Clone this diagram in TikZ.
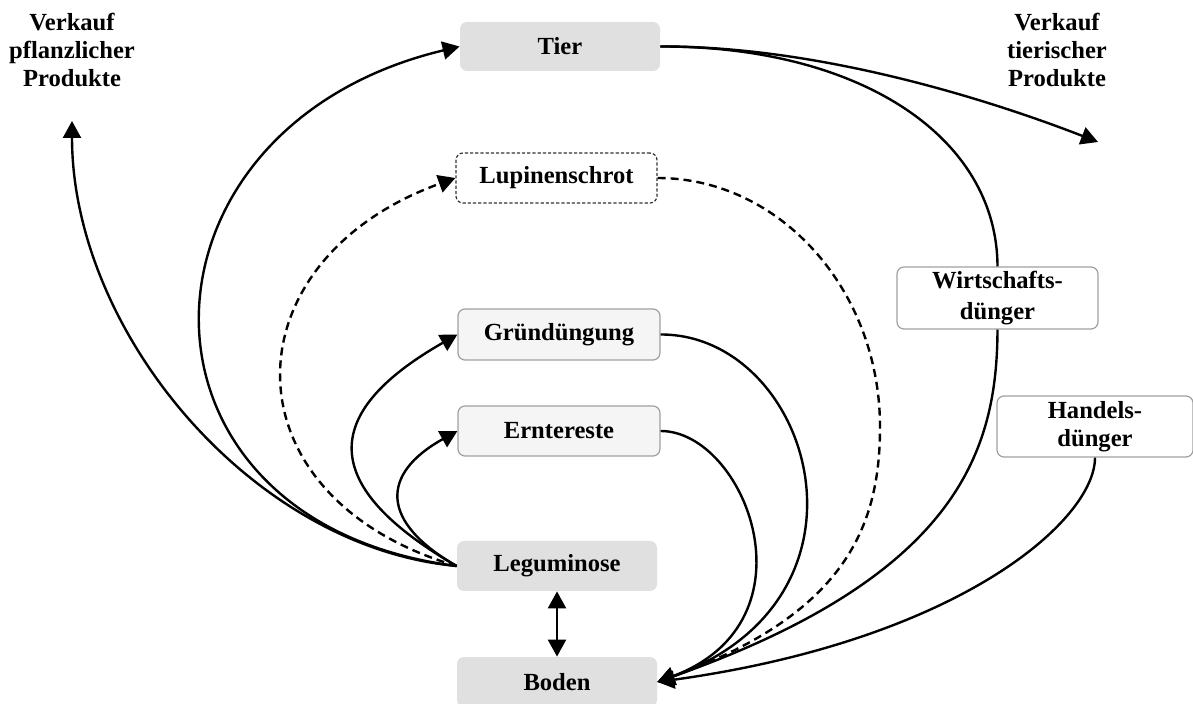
\documentclass[tikz,border=0pt]{standalone}
\usepackage{fontspec}
\setmainfont{Liberation Serif}
\usetikzlibrary{arrows.meta}
\definecolor{boxgray}{HTML}{E0E0E0}
\definecolor{paleboxfill}{HTML}{F5F5F5}
\definecolor{edgegray}{HTML}{A0A0A0}
\definecolor{dashedge}{HTML}{333333}
\begin{document}
\begin{tikzpicture}[x=0.5pt,y=-0.5pt,
  every node/.style={font=\fontsize{12.3}{14}\selectfont\bfseries, inner sep=0pt, align=center},
  basebox/.style={rounded corners=3.5pt, minimum width=100pt, minimum height=24.5pt},
  darkbox/.style={basebox, fill=boxgray},
  palebox/.style={basebox, fill=paleboxfill, draw=edgegray, line width=0.6pt},
  whitebox/.style={basebox, fill=white, draw=edgegray, line width=0.6pt, minimum height=30.5pt},
  dashbox/.style={basebox, fill=white, draw=dashedge, line width=0.6pt, dash pattern=on 1.6pt off 1pt},
  flow/.style={line width=1.2pt, -{Triangle[length=8.5pt,width=9pt]}},
  flowplain/.style={line width=1.2pt},
  dashflow/.style={dash pattern=on 4pt off 2.5pt}
]
\useasboundingbox (0,0) rectangle (1193,704);

% nodes
\node[darkbox] (tier) at (560,46.5) {Tier};
\node[dashbox, minimum width=100.5pt, minimum height=25pt] (lup) at (556.5,178) {Lupinenschrot};
\node[palebox, minimum width=101pt, minimum height=25.5pt] (gruen) at (559,334.5) {Gründüngung};
\node[palebox, minimum width=101pt, minimum height=25pt] (ernte) at (559,431) {Erntereste};
\node[darkbox, minimum height=25pt] (leg) at (557,566) {Leguminose};
\node[darkbox, minimum height=25pt] (boden) at (557,682) {Boden};
\node[whitebox, minimum width=100.5pt, minimum height=31pt,
      font=\fontsize{12.3}{15.5}\selectfont\bfseries] (wirt) at (997.5,298) {Wirtschafts-\\dünger};
\node[whitebox, minimum width=98pt] (handel) at (1095,426.5) {Handels-\\dünger};
\node (vpflanz) at (72,50) {Verkauf\\pflanzlicher\\Produkte};
\node (vtier) at (1057,50) {Verkauf\\tierischer\\Produkte};
\coordinate (vp) at (72,121);
\coordinate (vt) at (1098,142);

% left side: from Leguminose
\draw[flow] (leg.west) .. controls (250,547) and (72,330) .. (vp);
\draw[flow] (leg.west) .. controls (112,522) and (118,128) .. (tier.west);
\draw[flow, dashflow] (leg.west) .. controls (222,497) and (226,261) .. (lup.west);
\draw[flow] (leg.west) .. controls (320,487) and (318,414) .. (gruen.west);
\draw[flow] (leg.west) .. controls (380,522) and (380,474) .. (ernte.west);

% from Tier
\draw[flow] (tier.east) .. controls (820,46) and (990,100) .. (vt);
\draw[flowplain] (tier.east) .. controls (860,46) and (997,137) .. (wirt.north);

% right side: into Boden
\draw[flow] (gruen.east) .. controls (810,334) and (892,597) .. (boden.east);
\draw[flow] (ernte.east) .. controls (745,431) and (820,621) .. (boden.east);
\draw[flow, dashflow] (lup.east) .. controls (780,178) and (880,290) .. (880,427)
   .. controls (880,527) and (845,614) .. (boden.east);
\draw[flow] (wirt.south) .. controls (997,449) and (960,575) .. (boden.east);
\draw[flow] (handel.south) .. controls (1095,520) and (960,640) .. (boden.east);

% Leguminose <-> Boden
\draw[line width=1.2pt, {Triangle[length=8.5pt,width=9pt]}-{Triangle[length=8.5pt,width=9pt]}] (leg.south) -- (boden.north);
\end{tikzpicture}
\end{document}
